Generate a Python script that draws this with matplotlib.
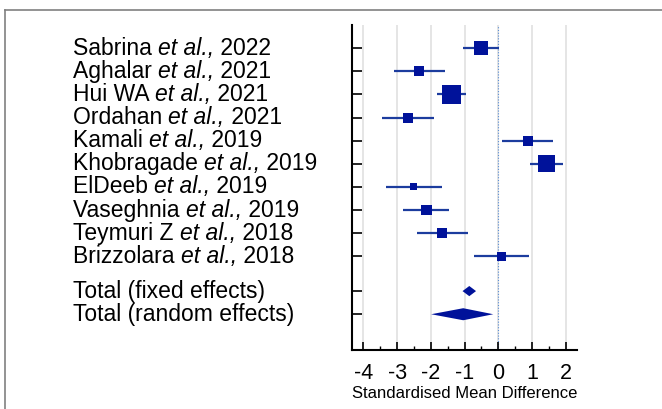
import numpy as np
import matplotlib
matplotlib.use("Agg")
import matplotlib.pyplot as plt
import matplotlib.ticker as ticker
from matplotlib.lines import Line2D
import matplotlib.transforms as mtransforms

plt.rcParams["font.family"] = ["Liberation Sans", "DejaVu Sans"]
plt.rcParams["axes.unicode_minus"] = False

authors = ["Sabrina", "Aghalar", "Hui WA", "Ordahan", "Kamali",
           "Khobragade", "ElDeeb", "Vaseghnia", "Teymuri Z", "Brizzolara"]
years = [2022, 2021, 2021, 2021, 2019, 2019, 2019, 2019, 2018, 2018]
smd = [-0.52, -2.34, -1.39, -2.67, 0.87, 1.43, -2.50, -2.13, -1.66, 0.10]
ci_low = [-1.06, -3.09, -1.83, -3.44, 0.12, 0.93, -3.34, -2.83, -2.42, -0.72]
ci_high = [0.03, -1.58, -0.96, -1.91, 1.61, 1.93, -1.68, -1.45, -0.91, 0.90]
weights = [14.3, 9.7, 19.3, 10.0, 10.0, 16.7, 7.0, 10.3, 9.7, 8.7]

pooled_labels = ["Total (fixed effects)", "Total (random effects)"]
pooled_est = [-0.86, -1.04]
pooled_low = [-1.06, -1.99]
pooled_high = [-0.66, -0.15]

xticks = [-4, -3, -2, -1, 0, 1, 2]

sq_color = "#00129a"
line_color = "#1c3c9e"

fig = plt.figure(figsize=(6.62, 4.09), dpi=100)
ax = fig.add_axes([0.532, 0.144, 0.339, 0.795])

rows = list(range(len(authors)))
pooled_rows = [len(authors) + 0.5, len(authors) + 1.5]

for x in xticks:
    ax.axvline(x, color="#dedede", lw=1.1, zorder=0)
ax.axvline(0, color="#5b8fd6", lw=0.8, ls=(0, (1, 1.5)), zorder=1)

ax.hlines(rows, ci_low, ci_high, color=line_color, lw=1.6, zorder=2)
ax.scatter(smd, rows, marker="s", s=[(w * 0.72) ** 2 for w in weights],
           color=sq_color, zorder=3, linewidths=0)

half_h = [0.22, 0.26]
for est, lo, hi, r, h in zip(pooled_est, pooled_low, pooled_high, pooled_rows, half_h):
    ax.fill([lo, est, hi, est], [r, r - h, r, r + h], color=sq_color, lw=0, zorder=3)

ax.set_xlim(-4.33, 2.32)
ax.set_ylim(13.05, -1)
ax.set_xticks(xticks)
ax.set_xticklabels([str(t) for t in xticks])
ax.xaxis.set_minor_locator(ticker.MultipleLocator(0.5))
ax.set_yticks(rows + pooled_rows)
ax.set_yticklabels([])
ax.tick_params(axis="x", which="major", direction="in", length=6, width=1.2,
               labelsize=15.5, pad=9)
ax.tick_params(axis="x", which="minor", direction="in", length=3, width=1)
ax.tick_params(axis="y", direction="in", length=7.5, width=1.2)
ax.set_xlabel("Standardised Mean Difference", fontsize=12, labelpad=2)
for side in ["top", "right"]:
    ax.spines[side].set_visible(False)
for side in ["left", "bottom"]:
    ax.spines[side].set_linewidth(1.5)

# study labels: name + italic "et al.," + year, chained piece by piece
fs = 16.5
trans = mtransforms.blended_transform_factory(fig.transFigure, ax.transData)
for a, yr, r in zip(authors, years, rows):
    t1 = ax.text(0.110, r, a + " ", transform=trans, fontsize=fs,
                 va="center", ha="left")
    t2 = ax.annotate("et al.,", xy=(1, 0), xycoords=t1, fontsize=fs,
                     style="italic", va="bottom", ha="left")
    ax.annotate(" " + str(yr), xy=(1, 0), xycoords=t2, fontsize=fs,
                va="bottom", ha="left")
for lab, r in zip(pooled_labels, pooled_rows):
    ax.text(0.110, r, lab, transform=trans, fontsize=fs, va="center", ha="left")

# gray frame lines (top and left)
fig.add_artist(Line2D([5 / 662, 1], [1 - 10 / 409, 1 - 10 / 409],
                      transform=fig.transFigure, color="#808080", lw=1.2))
fig.add_artist(Line2D([5 / 662, 5 / 662], [0, 1 - 10 / 409],
                      transform=fig.transFigure, color="#808080", lw=1.2))

plt.savefig("out.png", dpi=100)
